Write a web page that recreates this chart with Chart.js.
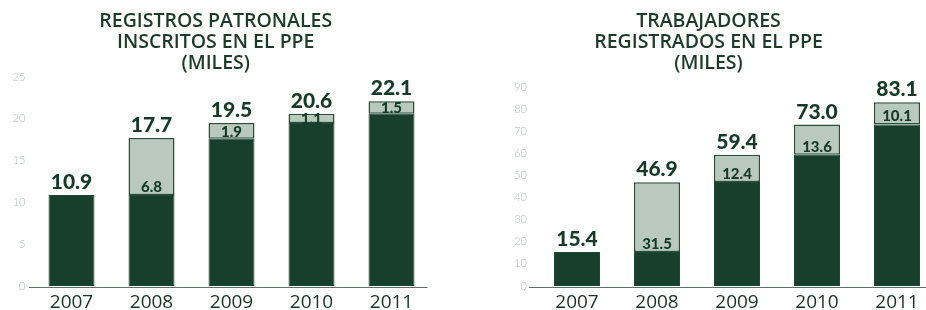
<!DOCTYPE html>
<html>
<head>
<meta charset="utf-8">
<script src="https://cdn.jsdelivr.net/npm/chart.js@4"></script>
<style>
  html, body { margin: 0; padding: 0; background: #ffffff; overflow: hidden; width: 926px; height: 310px; }
  .wrap { position: absolute; top: 0; height: 310px; }
  #w1 { left: 0; width: 438px; }
  #w2 { left: 480px; width: 488px; }
</style>
</head>
<body>
<div class="wrap" id="w1"><canvas id="c1" width="438" height="310"></canvas></div>
<div class="wrap" id="w2"><canvas id="c2" width="488" height="310"></canvas></div>
<script>
// ---- data ----
const years = ['2007', '2008', '2009', '2010', '2011'];

const patronTitle = ['REGISTROS PATRONALES', 'INSCRITOS EN EL PPE', '(MILES)'];
const patronBase  = [10.9, 10.9, 17.6, 19.5, 20.6];
const patronNew   = [null, 6.8, 1.9, 1.1, 1.5];
const patronTotal = [10.9, 17.7, 19.5, 20.6, 22.1];
const patronMax = 25;
const patronStep = 5;

const trabTitle = ['TRABAJADORES', 'REGISTRADOS EN EL PPE', '(MILES)'];
const trabBase  = [15.4, 15.4, 47.0, 59.4, 73.0];
const trabNew   = [null, 31.5, 12.4, 13.6, 10.1];
const trabTotal = [15.4, 46.9, 59.4, 73.0, 83.1];
const trabMax = 90;
const trabStep = 10;

// ---- style ----
const DARK = '#173f2c';
const LIGHT = '#b9c9be';
const TEXT = '#163a28';
const FONT = 'Lato, "Open Sans", sans-serif';
const TFONT = '"Open Sans", Lato, sans-serif';

const labelPlugin = {
  id: 'valueLabels',
  afterDatasetsDraw(chart, args, opts) {
    const ctx = chart.ctx;
    const m0 = chart.getDatasetMeta(0);
    const m1 = chart.getDatasetMeta(1);
    ctx.save();
    ctx.textAlign = 'center';
    for (let i = 0; i < opts.totals.length; i++) {
      const hasNew = opts.news[i] !== null && opts.news[i] !== undefined;
      const topBar = hasNew ? m1.data[i] : m0.data[i];
      ctx.fillStyle = TEXT;
      ctx.font = '900 21px ' + FONT;
      ctx.textBaseline = 'alphabetic';
      ctx.fillText(opts.totals[i].toFixed(1), topBar.x, topBar.y - 6);
      if (hasNew) {
        const el = m1.data[i];
        const top = el.y, bottom = el.base;
        const cy = Math.max((top + bottom) / 2, bottom - 9);
        ctx.font = '900 15px ' + FONT;
        ctx.textBaseline = 'middle';
        ctx.fillText(opts.news[i].toFixed(1), el.x, cy + 1);
      }
    }
    ctx.restore();
  }
};

const baselinePlugin = {
  id: 'baseline',
  afterDatasetsDraw(chart, args, opts) {
    const ctx = chart.ctx;
    const a = chart.chartArea;
    const y = Math.round(a.bottom) + 1.5;
    ctx.save();
    ctx.strokeStyle = '#5d7064';
    ctx.lineWidth = 1;
    ctx.beginPath();
    ctx.moveTo(a.left - opts.extendLeft, y);
    ctx.lineTo(a.right - 4, y);
    ctx.stroke();
    ctx.restore();
  }
};

function makeChart(id, title, base, news, totals, max, step, yWidth, padRight, tickPad, extendLeft, titleBottom) {
  return new Chart(document.getElementById(id), {
    type: 'bar',
    data: {
      labels: years,
      datasets: [
        { data: base, backgroundColor: DARK, borderColor: '#1f4734', borderWidth: 1, borderSkipped: false },
        { data: news, backgroundColor: LIGHT, borderColor: '#2b4f3b', borderWidth: 1.5, borderSkipped: false }
      ]
    },
    options: {
      responsive: false,
      animation: false,
      devicePixelRatio: 1,
      layout: { padding: { left: 0, right: padRight, top: 0, bottom: 0 } },
      categoryPercentage: 1,
      barPercentage: 0.575,
      plugins: {
        legend: { display: false },
        tooltip: { enabled: false },
        title: {
          display: true,
          text: title,
          color: '#1d3b2b',
          font: { family: TFONT, size: 19.5, weight: '600', lineHeight: 21 / 19.5 },
          padding: { top: 11, bottom: titleBottom }
        },
        valueLabels: { totals: totals, news: news },
        baseline: { extendLeft: extendLeft }
      },
      scales: {
        x: {
          stacked: true,
          grid: { display: false, drawTicks: false },
          border: { display: false },
          ticks: { color: '#1a3327', font: { family: TFONT, size: 19 }, padding: 5 },
          afterFit(scale) { scale.height = 24; }
        },
        y: {
          stacked: true,
          min: 0,
          max: max,
          grid: { display: false, drawTicks: false },
          border: { display: false },
          ticks: { stepSize: step, color: '#b3bdb7', font: { family: FONT, size: 11, weight: '300' }, padding: tickPad },
          afterFit(scale) { scale.width = yWidth; }
        }
      }
    },
    plugins: [labelPlugin, baselinePlugin]
  });
}

makeChart('c1', patronTitle, patronBase, patronNew, patronTotal, patronMax, patronStep, 31.5, 6.5, 6, 2.5, 3);
makeChart('c2', trabTitle, trabBase, trabNew, trabTotal, trabMax, trabStep, 57, 31, 10, 8, 13);
</script>
</body>
</html>
